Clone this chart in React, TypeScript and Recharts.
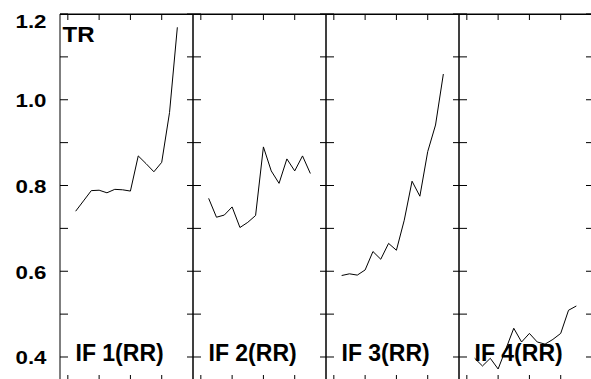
import { LineChart, Line, XAxis, YAxis, ReferenceArea } from 'recharts';

// x positions of the yearly points inside each panel (panel axis runs 0..17)
const periods = [2, 3, 4, 5, 6, 7, 8, 9, 10, 11, 12, 13, 14, 15];
const xTicks = [1, 5, 9, 13];
const yTicks = [0.4, 0.5, 0.6, 0.7, 0.8, 0.9, 1.0, 1.1, 1.2];
const yTickLabels: Record<string, string> = { '0.4': '0.4', '0.6': '0.6', '0.8': '0.8', '1': '1.0', '1.2': '1.2' };

const panelNames = ['IF 1(RR)', 'IF 2(RR)', 'IF 3(RR)', 'IF 4(RR)'];
const if1 = [0.740, 0.764, 0.788, 0.789, 0.783, 0.791, 0.790, 0.787, 0.869, 0.851, 0.832, 0.854, 0.970, 1.169];
const if2 = [0.770, 0.726, 0.731, 0.750, 0.702, 0.714, 0.730, 0.890, 0.834, 0.805, 0.862, 0.834, 0.869, 0.828];
const if3 = [0.590, 0.594, 0.591, 0.603, 0.646, 0.628, 0.665, 0.649, 0.719, 0.810, 0.775, 0.879, 0.941, 1.060];
const if4 = [0.397, 0.379, 0.397, 0.372, 0.419, 0.467, 0.435, 0.455, 0.435, 0.430, 0.441, 0.455, 0.509, 0.519];
const series = [if1, if2, if3, if4];

const X_DOMAIN: [number, number] = [0, 17];
const Y_DOMAIN: [number, number] = [0.344, 1.2];
const PLOT_LEFT = 60;
const PANEL_W = 133;
const TOP = 14;
const PLOT_H = 367;
const AX = 20; // room kept for each axis, its ticks point inward
const FONT = '"Liberation Sans", Arial, sans-serif';
const black = { stroke: '#000', strokeWidth: 1 };

// tick marks drawn inward from the frame; labels only on the first panel's left side
function LeftTick(props: any) {
  const { y, payload, axisX, withLabel } = props;
  const label = withLabel ? yTickLabels[String(payload.value)] : undefined;
  const dy = payload.value === 1.2 ? 13.5 : 7.5;
  return (
    <g>
      <rect x={axisX} y={y - 0.5} width={8} height={1} fill="#000" />
      {label && (
        <text x={46.5} y={y + dy} textAnchor="end" fontFamily={FONT} fontWeight="bold" fontSize={19}
          textLength={31} lengthAdjust="spacingAndGlyphs" fill="#000">
          {label}
        </text>
      )}
    </g>
  );
}

function RightTick(props: any) {
  const { y, axisX } = props;
  return <rect x={axisX - 6} y={y - 0.5} width={6} height={1} fill="#000" />;
}

function BottomTick(props: any) {
  const { x, topY, bottomY } = props;
  return (
    <g>
      <rect x={x - 0.5} y={bottomY - 6} width={1} height={6} fill="#000" />
      <rect x={x - 0.5} y={topY} width={1} height={6} fill="#000" />
    </g>
  );
}

function Panel({ index }: { index: number }) {
  const rows = periods.map((p, i) => ({ p, v: series[index][i] }));
  const first = index === 0;
  const leftPad = first ? PLOT_LEFT - AX : 2;
  const left = first ? 0 : PLOT_LEFT + PANEL_W * index - AX - 2;
  const width = leftPad + AX + PANEL_W + AX + 2;
  const topY = TOP;
  const bottomY = TOP + PLOT_H;
  return (
    <div style={{ position: 'absolute', left, top: 0 }}>
      <LineChart
        width={width}
        height={TOP + PLOT_H + AX + 2}
        data={rows}
        margin={{ top: TOP - AX, right: 2, bottom: 2, left: leftPad }}
      >
        <XAxis dataKey="p" type="number" domain={X_DOMAIN} ticks={xTicks} height={AX} interval={0}
          tickLine={false} axisLine={black} tick={<BottomTick topY={topY} bottomY={bottomY} />} />
        <XAxis xAxisId="top" orientation="top" dataKey="p" type="number" domain={X_DOMAIN} ticks={xTicks}
          height={AX} interval={0} tickLine={false} axisLine={black} tick={false} />
        <YAxis dataKey="v" type="number" domain={Y_DOMAIN} ticks={yTicks} width={AX} interval={0}
          tickLine={false} axisLine={black} tick={<LeftTick axisX={leftPad + AX} withLabel={first} />} />
        <YAxis yAxisId="r" orientation="right" dataKey="v" type="number" domain={Y_DOMAIN} ticks={yTicks}
          width={AX} interval={0} tickLine={false} axisLine={black}
          tick={<RightTick axisX={width - 2 - AX} />} />
        <ReferenceArea y1={1.1977} y2={1.2} fill="#000" fillOpacity={1} stroke="none" />
        <Line dataKey="v" type="linear" stroke="#000" strokeWidth={1} dot={false} isAnimationActive={false} />
      </LineChart>
    </div>
  );
}

export default function App() {
  return (
    <div style={{ position: 'absolute', left: 0, top: 0, width: 591, height: 379 }}>
      <svg width={591} height={379} style={{ position: 'absolute', left: 0, top: 0, pointerEvents: 'none' }}>
        <text x={62.5} y={41.5} fontFamily={FONT} fontWeight="bold" fontSize={22} textLength={32}
          lengthAdjust="spacingAndGlyphs" fill="#000">TR</text>
        {panelNames.map((name, i) => (
          <text key={name} x={PLOT_LEFT + PANEL_W * i + 15.5} y={361} fontFamily={FONT} fontWeight="bold"
            fontSize={23} fill="#000">
            {name}
          </text>
        ))}
      </svg>
      {series.map((_, i) => (
        <Panel key={i} index={i} />
      ))}
    </div>
  );
}
